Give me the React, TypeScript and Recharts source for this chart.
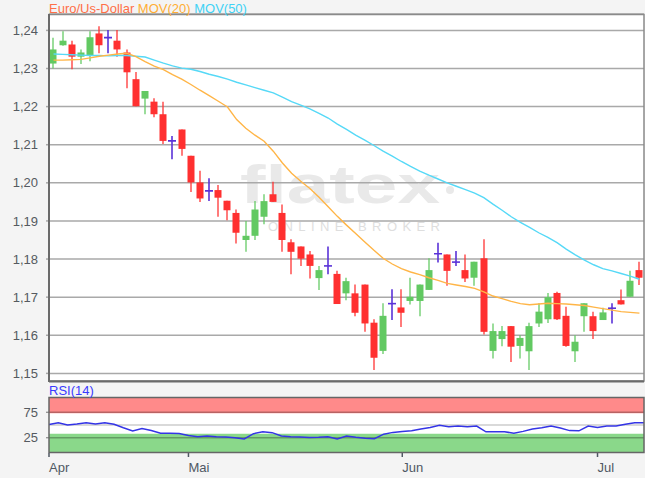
import React from "react";
import {
  ComposedChart,
  Bar,
  Line,
  XAxis,
  YAxis,
  CartesianGrid,
  ReferenceArea,
  ReferenceLine,
} from "recharts";

const FONT = '"Liberation Sans", Arial, sans-serif';

// trading days (2018), Apr 10 .. Jul 9
const dates = [
  "04-10", "04-11", "04-12", "04-13", "04-16", "04-17", "04-18", "04-19", "04-20", "04-23", "04-24", "04-25", "04-26", "04-27", "04-30",
  "05-01", "05-02", "05-03", "05-04", "05-07", "05-08", "05-09", "05-10", "05-11", "05-14", "05-15", "05-16", "05-17", "05-18", "05-21", "05-22", "05-23", "05-24", "05-25", "05-28", "05-29", "05-30", "05-31",
  "06-01", "06-04", "06-05", "06-06", "06-07", "06-08", "06-11", "06-12", "06-13", "06-14", "06-15", "06-18", "06-19", "06-20", "06-21", "06-22", "06-25", "06-26", "06-27", "06-28", "06-29",
  "07-02", "07-03", "07-04", "07-05", "07-06", "07-09",
];

const opens = [
  1.2313, 1.2361, 1.2363, 1.2331, 1.2333, 1.2392, 1.2381, 1.2373, 1.2342, 1.2272, 1.2221, 1.2213, 1.218, 1.211, 1.214,
  1.2071, 1.2001, 1.1979, 1.1981, 1.1953, 1.1921, 1.185, 1.1861, 1.1911, 1.197, 1.1921, 1.1844, 1.1833, 1.1812, 1.175, 1.1782, 1.1761, 1.171, 1.171, 1.1733, 1.1633, 1.1559, 1.1683,
  1.1673, 1.169, 1.169, 1.1719, 1.1814, 1.1812, 1.1792, 1.1771, 1.1751, 1.1802, 1.1559, 1.159, 1.1624, 1.1572, 1.1558, 1.1631, 1.1642, 1.1711, 1.1651, 1.1558, 1.165,
  1.165, 1.164, 1.1671, 1.1692, 1.1701, 1.1771,
];
const highs = [
  1.2381, 1.2398, 1.2373, 1.235, 1.2398, 1.2411, 1.2401, 1.2401, 1.235, 1.2291, 1.2241, 1.2222, 1.2213, 1.2123, 1.214,
  1.2071, 1.2032, 1.2012, 1.1994, 1.1953, 1.193, 1.19, 1.1952, 1.197, 1.2003, 1.1943, 1.1852, 1.1833, 1.1821, 1.1782, 1.1833, 1.1769, 1.1751, 1.1733, 1.1733, 1.1642, 1.1684, 1.1721,
  1.1721, 1.1751, 1.1733, 1.1802, 1.1843, 1.1812, 1.1821, 1.1812, 1.1793, 1.1852, 1.1631, 1.1624, 1.1624, 1.16, 1.1633, 1.1684, 1.1711, 1.1714, 1.1675, 1.16, 1.1684,
  1.1662, 1.1672, 1.1684, 1.172, 1.1769, 1.1793,
];
const lows = [
  1.23, 1.236, 1.2298, 1.2312, 1.2319, 1.234, 1.234, 1.2331, 1.2248, 1.2201, 1.218, 1.2172, 1.2102, 1.2062, 1.2071,
  1.1976, 1.195, 1.1952, 1.1911, 1.1902, 1.1841, 1.1819, 1.185, 1.1891, 1.195, 1.1819, 1.176, 1.1782, 1.1749, 1.1719, 1.176, 1.1682, 1.1692, 1.165, 1.1609, 1.1509, 1.1551, 1.164,
  1.1622, 1.1681, 1.165, 1.1719, 1.1791, 1.173, 1.1782, 1.174, 1.173, 1.1602, 1.1539, 1.1571, 1.153, 1.1539, 1.1509, 1.1622, 1.1632, 1.164, 1.157, 1.153, 1.1609,
  1.159, 1.164, 1.1631, 1.1681, 1.1701, 1.1732,
];
const closes = [
  1.235, 1.2373, 1.2331, 1.2342, 1.2382, 1.2361, 1.2381, 1.235, 1.229, 1.2201, 1.2241, 1.218, 1.211, 1.211, 1.2089,
  1.2001, 1.1959, 1.1979, 1.1961, 1.1928, 1.1869, 1.1861, 1.193, 1.1952, 1.195, 1.185, 1.1819, 1.1801, 1.1782, 1.1771, 1.1782, 1.1682, 1.1742, 1.1659, 1.1631, 1.1541, 1.1651, 1.1683,
  1.1659, 1.1701, 1.1733, 1.1771, 1.1814, 1.1769, 1.1792, 1.1749, 1.1793, 1.1609, 1.1611, 1.1611, 1.157, 1.1593, 1.1624, 1.1662, 1.17, 1.1642, 1.1572, 1.1583, 1.1684,
  1.1611, 1.166, 1.1671, 1.1681, 1.1743, 1.1751,
];

const mov20 = [
  1.2322, 1.2322, 1.2323, 1.2324, 1.2328, 1.2332, 1.2335, 1.2338, 1.234, 1.2331, 1.2318, 1.2306, 1.2297, 1.2284, 1.2272,
  1.2258, 1.2243, 1.2229, 1.2214, 1.2199, 1.2166, 1.2143, 1.2125, 1.2109, 1.2083, 1.2052, 1.2025, 1.2004, 1.1985, 1.1962, 1.1937, 1.1912, 1.1889, 1.1867, 1.1845, 1.1823, 1.1802, 1.1787,
  1.1775, 1.1766, 1.1759, 1.1751, 1.1744, 1.1736, 1.1732, 1.1728, 1.1723, 1.1714, 1.1703, 1.1696, 1.1689, 1.1683, 1.168, 1.1682, 1.1684, 1.1683, 1.1682, 1.168, 1.1678,
  1.1674, 1.167, 1.1666, 1.1662, 1.166, 1.1658,
];
const mov50 = [
  1.2338, 1.2337, 1.2336, 1.2335, 1.2334, 1.2334, 1.2333, 1.2334, 1.2334, 1.2332, 1.233, 1.2322, 1.2314, 1.2307, 1.2301,
  1.2298, 1.2292, 1.2285, 1.2279, 1.2272, 1.2264, 1.2257, 1.225, 1.2243, 1.2236, 1.2225, 1.2213, 1.2204, 1.2194, 1.2182, 1.217, 1.2154, 1.214, 1.2125, 1.2112, 1.2098, 1.2083, 1.207,
  1.2056, 1.2043, 1.2031, 1.202, 1.201, 1.2, 1.1991, 1.1982, 1.1973, 1.1961, 1.1944, 1.1928, 1.1911, 1.1896, 1.1883, 1.1869, 1.1857, 1.1843, 1.1826, 1.1811, 1.1797,
  1.1785, 1.1775, 1.1769, 1.1762, 1.1755, 1.1747,
];
const rsi14 = [
  51, 54.5, 50, 52, 54.5, 52, 54.5, 51.5, 44.5, 38.5, 43, 39, 34, 34, 33.5,
  29.5, 27, 28.5, 27, 26.5, 25, 22.5, 33, 36.5, 35, 28.5, 27, 26.5, 25.5, 26, 27, 22.5, 28.5, 26, 24, 23, 32, 35.5,
  37, 38.5, 42, 45, 49.5, 46.5, 48, 46.5, 48, 36.5, 36.5, 36.5, 34, 37.5, 42, 44.5, 48, 44, 39, 38.5, 48,
  45, 48, 48, 51.5, 54.5, 54.5,
];

const priceTicks = [1.15, 1.16, 1.17, 1.18, 1.19, 1.2, 1.21, 1.22, 1.23, 1.24];
const rsiTicks = [25, 75];
const monthTicks = ["04-10", "05-01", "06-01", "07-02"];
const monthNames: Record<string, string> = { "04": "Apr", "05": "Mai", "06": "Jun", "07": "Jul" };

const UP = "#62c962";
const DOWN = "#ff3030";
const DOJI = "#5a32d8";

const rows = dates.map((date, i) => ({
  date,
  o: opens[i],
  h: highs[i],
  l: lows[i],
  c: closes[i],
  range: [lows[i], highs[i]],
  m20: mov20[i],
  m50: mov50[i],
  rsi: rsi14[i],
}));

const Candle = (props: any) => {
  const { x, y, width, height, payload } = props;
  if (!payload) return null;
  const { o, h, l, c } = payload;
  const top = Math.min(y, y + height);
  const bot = Math.max(y, y + height);
  const toY = (v: number) => (h === l ? top : top + ((h - v) / (h - l)) * (bot - top));
  const cx = Math.round(x + width / 2);
  if (o === c) {
    const yy = toY(o);
    return (
      <g>
        <line x1={cx} x2={cx} y1={top} y2={bot} stroke={DOJI} strokeWidth={1.6} />
        <line x1={cx - 4} x2={cx + 4} y1={yy} y2={yy} stroke={DOJI} strokeWidth={1.6} />
      </g>
    );
  }
  const color = c > o ? UP : DOWN;
  const bt = toY(Math.max(o, c));
  const bb = toY(Math.min(o, c));
  return (
    <g>
      <line x1={cx} x2={cx} y1={top} y2={bot} stroke={color} strokeWidth={1.5} strokeOpacity={0.85} />
      <rect x={cx - 3.5} y={bt} width={7} height={Math.max(bb - bt, 1.5)} fill={color} />
    </g>
  );
};

const MonthTick = ({ x, y, payload }: any) => (
  <text x={x} y={y + 13} textAnchor="start" fontSize={13} fill="#4f5863" fontFamily={FONT}>
    {monthNames[String(payload.value).slice(0, 2)]}
  </text>
);

const axisTick = { fontSize: 13, fill: "#555a60", fontFamily: FONT };

export default function App() {
  return (
    <div style={{ position: "absolute", left: 0, top: 0, width: 645, height: 478, background: "#f4f4f4", overflow: "hidden" }}>
      {/* plot backgrounds + watermark */}
      <svg width={645} height={478} style={{ position: "absolute", left: 0, top: 0 }}>
        <rect x={49} y={14} width={595} height={367} fill="#ffffff" />
        <rect x={49} y={397} width={595} height={56} fill="#ffffff" />
        <text x={240} y={203} fontSize={54} fontWeight="bold" fill="#e9e9e9" fontFamily={FONT} textLength={200} lengthAdjust="spacingAndGlyphs">
          flatex
        </text>
        <circle cx={450} cy={190} r={4} fill="#e9e9e9" />
        <text x={268} y={231} fontSize={13} fill="#dedede" fontFamily={FONT} textLength={172} lengthAdjust="spacing">
          ONLINE BROKER
        </text>
      </svg>

      <div style={{ position: "absolute", left: 0, top: 0 }}>
        <ComposedChart width={645} height={383} data={rows} margin={{ top: 14, right: 1, bottom: 2, left: 0 }}>
          <CartesianGrid vertical={false} stroke="#a9a9a9" strokeWidth={1.5} />
          <XAxis dataKey="date" hide />
          <YAxis
            type="number"
            domain={[1.148, 1.2443]}
            ticks={priceTicks}
            allowDataOverflow
            width={49}
            tickSize={3}
            tickMargin={8}
            tickLine={{ stroke: "#a9a9a9", strokeWidth: 1.5 }}
            axisLine={false}
            tick={axisTick}
            tickFormatter={(v: number) => v.toFixed(2).replace(".", ",")}
          />
          <Line dataKey="m50" type="linear" stroke="#56d9f7" strokeWidth={1.4} dot={false} isAnimationActive={false} />
          <Line dataKey="m20" type="linear" stroke="#ffb547" strokeWidth={1.4} dot={false} isAnimationActive={false} />
          <Bar dataKey="range" shape={<Candle />} isAnimationActive={false} />
        </ComposedChart>
      </div>

      <div style={{ position: "absolute", left: 0, top: 380 }}>
        <ComposedChart width={645} height={98} data={rows} margin={{ top: 17, right: 1, bottom: 0, left: 0 }}>
          <ReferenceArea y1={73} y2={105} fill="#ff8a8a" fillOpacity={1} stroke="none" ifOverflow="extendDomain" />
          <ReferenceArea y1={-5} y2={33} fill="#8ad88a" fillOpacity={1} stroke="none" ifOverflow="extendDomain" />
          <ReferenceLine y={75} stroke="#000" strokeOpacity={0.28} strokeWidth={1.5} />
          <ReferenceLine y={50} stroke="#000" strokeOpacity={0.3} strokeWidth={1.2} />
          <ReferenceLine y={25} stroke="#000" strokeOpacity={0.28} strokeWidth={1.5} />
          <XAxis
            dataKey="date"
            ticks={monthTicks}
            interval={0}
            height={25}
            tickSize={4}
            tickLine={{ stroke: "#4f5863", strokeWidth: 1.5 }}
            axisLine={false}
            tick={<MonthTick />}
          />
          <YAxis
            type="number"
            domain={[-5, 105]}
            ticks={rsiTicks}
            allowDataOverflow
            width={49}
            tickSize={3}
            tickMargin={8}
            tickLine={{ stroke: "#888", strokeWidth: 1.2 }}
            axisLine={false}
            tick={axisTick}
          />
          <Line dataKey="rsi" type="linear" stroke="#3434e6" strokeWidth={1.5} dot={false} isAnimationActive={false} />
        </ComposedChart>
      </div>

      {/* frames and labels */}
      <svg width={645} height={478} style={{ position: "absolute", left: 0, top: 0, pointerEvents: "none" }}>
        <rect x={49} y={14.5} width={595} height={366.5} fill="none" stroke="#8a8a8a" strokeWidth={1.5} />
        <line x1={49} x2={49} y1={14} y2={382} stroke="#6a6a6a" strokeWidth={2} />
        <line x1={49} x2={644} y1={381.5} y2={381.5} stroke="#6a6a6a" strokeWidth={2} />
        <rect x={49} y={397.5} width={595} height={55} fill="none" stroke="#666" strokeWidth={1.5} />
        <text x={49} y={13} fontSize={13} fontFamily={FONT}>
          <tspan fill="#ff6f47">Euro/Us-Dollar </tspan>
          <tspan fill="#ffae35">MOV(20) </tspan>
          <tspan fill="#3fd2f5">MOV(50)</tspan>
        </text>
        <text x={49} y={395} fontSize={13} fontFamily={FONT} fill="#3a3aff">
          RSI(14)
        </text>
      </svg>
    </div>
  );
}
